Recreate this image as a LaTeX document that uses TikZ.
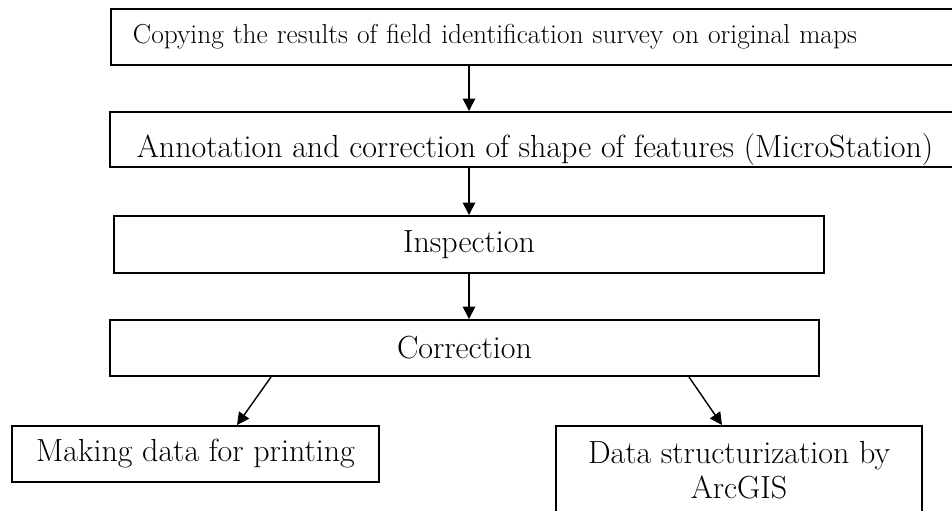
\documentclass[tikz,border=0pt]{standalone}
\usepackage{tikz}
\usetikzlibrary{arrows.meta}
\usetikzlibrary{calc}
\usetikzlibrary{positioning}

\begin{document}
\begin{tikzpicture}[x=0.02cm, y=-0.02cm,
  stepbox/.style={draw, rectangle, line width=1.1pt, inner sep=0pt, font=\fontsize{18.2}{20}\selectfont},
  flow/.style={line width=0.8pt, -{Triangle[length=7pt, width=7pt]}}]
\clip (0,0) rectangle (952,510);
\node[stepbox, anchor=west, font=\fontsize{15.6}{19}\selectfont, text width=19cm, align=left, inner xsep=0.44cm, minimum height=1.12cm] (copy) at (110,37) {Copying the results of field identification survey on original maps};
\node[stepbox, minimum width=17cm, text height=0.92cm, text depth=0.18cm] (annot) at (535,139.5) {Annotation and correction of shape of features (MicroStation)};
\node[stepbox, minimum width=14.2cm, minimum height=1.14cm] (insp) at (469,244.5) {Inspection};
\node[stepbox, minimum width=14.18cm, minimum height=1.12cm] (corr) at (464.5,348) {Correction};
\node[stepbox, minimum width=7.34cm, minimum height=1.12cm] (print) at (195.5,454) {Making data for printing};
\node[stepbox, anchor=north, minimum width=7.32cm, align=center, inner ysep=0.3cm] (arcgis) at (739,425) {Data structurization by\\ArcGIS\rule[-1cm]{0pt}{0pt}};
\draw[flow] (copy.south -| insp.north) -- (annot.north -| insp.north);
\draw[flow] (annot.south -| insp.north) -- (insp.north);
\draw[flow] (insp.south) -- (corr.north -| insp.south);
\draw[flow] ([xshift=-3.87cm]corr.south) -- ([xshift=0.83cm]print.north);
\draw[flow] ([xshift=4.49cm]corr.south) -- ([xshift=-0.34cm]arcgis.north);
\end{tikzpicture}
\end{document}
